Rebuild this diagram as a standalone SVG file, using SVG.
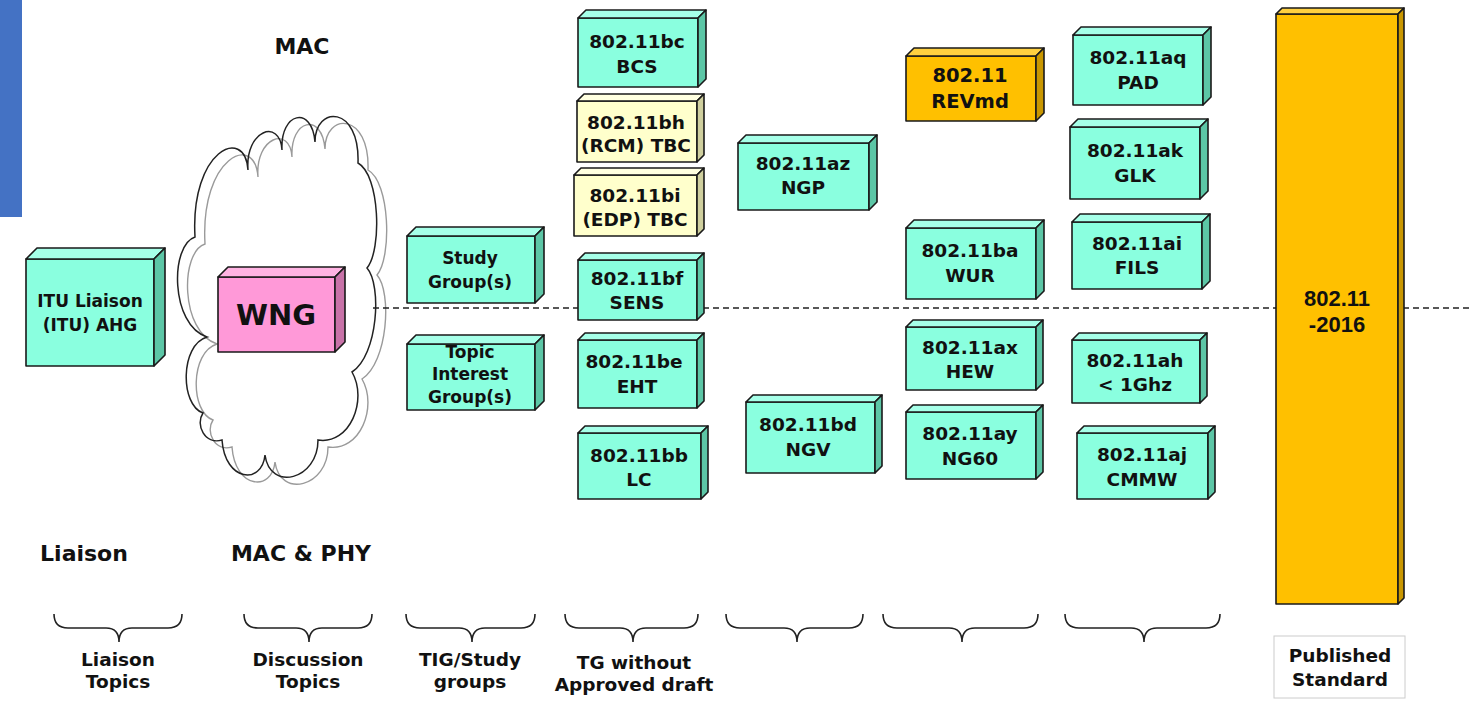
<svg xmlns="http://www.w3.org/2000/svg" width="1472" height="701" viewBox="0 0 1472 701">
<style>
.t{font-family:"DejaVu Sans","Verdana",sans-serif;font-weight:bold;fill:#111;text-anchor:middle}
.b{font-size:18.5px}
.s{font-size:17px}
.big{font-size:22px}
.lab{font-size:18.5px}
.ar{font-family:"Liberation Sans",Arial,sans-serif;font-weight:bold;font-size:22px;fill:#111;text-anchor:middle}
.ol{stroke:#1a1a1a;stroke-width:1.6;stroke-linejoin:round}
.af{fill:#8AFFDF}.at{fill:#A6FFE8}.as{fill:#5CC6A6}
.yf{fill:#FFFFCC}.yt{fill:#FFFFE0}.ys{fill:#CFCF9E}
.of{fill:#FFC000}.ot{fill:#FFD040}.os{fill:#C99700}
.pf{fill:#FF99D8}.pt{fill:#FFB3E2}.ps{fill:#C872A8}
.brace{fill:none;stroke:#222;stroke-width:1.6}
</style>
<defs>
<path id="cloudShape" d="M195,237 C190,150 245,125 248,170 C245,130 280,118 282,150 C280,112 312,105 315,142 C315,105 360,105 358,163 C380,175 382,250 367,268 C382,285 378,355 352,372 C368,400 350,445 318,440 C318,480 270,492 265,455 C262,485 225,482 222,440 C205,445 195,425 203,413 C180,405 180,345 207,337 C170,325 170,245 195,237 Z"/>
</defs>
<rect x="0" y="0" width="22" height="217" fill="#4472C4"/>
<text class="t big" x="302" y="54">MAC</text>
<g id="cloud">
<use href="#cloudShape" transform="translate(10,7)" fill="none" stroke="#9a9a9a" stroke-width="1.4"/>
<use href="#cloudShape" fill="none" stroke="#222" stroke-width="1.5"/>
</g>
<g id="connectors">
<line x1="373" y1="308" x2="1472" y2="308" stroke="#222" stroke-width="1.5" stroke-dasharray="6 4"/>
</g>
<g id="itu">
<rect class="af ol" x="26" y="259" width="128" height="107"/>
<polygon class="at ol" points="26,259 37,248 165,248 154,259"/>
<polygon class="as ol" points="154,259 165,248 165,355 154,366"/>
<text class="t s" x="90" y="307">ITU Liaison</text>
<text class="t s" x="90" y="331">(ITU) AHG</text>
</g>
<g id="wng">
<rect class="pf ol" x="218" y="277" width="117" height="75"/>
<polygon class="pt ol" points="218,277 228,267 345,267 335,277"/>
<polygon class="ps ol" points="335,277 345,267 345,342 335,352"/>
<text class="t" style="font-size:29px" x="276" y="325">WNG</text>
</g>
<g id="study">
<rect class="af ol" x="407" y="236" width="128" height="67"/>
<polygon class="at ol" points="407,236 416,227 544,227 535,236"/>
<polygon class="as ol" points="535,236 544,227 544,294 535,303"/>
<text class="t s" x="470" y="264">Study</text>
<text class="t s" x="470" y="288">Group(s)</text>
</g>
<g id="topic">
<rect class="af ol" x="407" y="344" width="128" height="66"/>
<polygon class="at ol" points="407,344 416,335 544,335 535,344"/>
<polygon class="as ol" points="535,344 544,335 544,401 535,410"/>
<text class="t s" x="470" y="358">Topic</text>
<text class="t s" x="470" y="380">Interest</text>
<text class="t s" x="470" y="403">Group(s)</text>
</g>
<g id="bc">
<rect class="af ol" x="578" y="18" width="120" height="69"/>
<polygon class="at ol" points="578,18 586,10 706,10 698,18"/>
<polygon class="as ol" points="698,18 706,10 706,79 698,87"/>
<text class="t b" x="637" y="48">802.11bc</text>
<text class="t b" x="637" y="73">BCS</text>
</g>
<g id="bh">
<rect class="yf ol" x="577" y="101" width="120" height="61"/>
<polygon class="yt ol" points="577,101 584,94 704,94 697,101"/>
<polygon class="ys ol" points="697,101 704,94 704,155 697,162"/>
<text class="t b" x="636" y="129">802.11bh</text>
<text class="t b" x="636" y="152">(RCM) TBC</text>
</g>
<g id="bi">
<rect class="yf ol" x="574" y="175" width="123" height="61"/>
<polygon class="yt ol" points="574,175 581,168 704,168 697,175"/>
<polygon class="ys ol" points="697,175 704,168 704,229 697,236"/>
<text class="t b" x="635" y="202">802.11bi</text>
<text class="t b" x="635" y="226">(EDP) TBC</text>
</g>
<g id="bf">
<rect class="af ol" x="578" y="260" width="119" height="60"/>
<polygon class="at ol" points="578,260 585,253 704,253 697,260"/>
<polygon class="as ol" points="697,260 704,253 704,313 697,320"/>
<text class="t b" x="637" y="285">802.11bf</text>
<text class="t b" x="637" y="309">SENS</text>
</g>
<g id="be">
<rect class="af ol" x="578" y="340" width="119" height="68"/>
<polygon class="at ol" points="578,340 585,333 704,333 697,340"/>
<polygon class="as ol" points="697,340 704,333 704,401 697,408"/>
<text class="t b" x="634" y="368">802.11be</text>
<text class="t b" x="637" y="393">EHT</text>
</g>
<g id="bb">
<rect class="af ol" x="578" y="433" width="123" height="66"/>
<polygon class="at ol" points="578,433 585,426 708,426 701,433"/>
<polygon class="as ol" points="701,433 708,426 708,492 701,499"/>
<text class="t b" x="639" y="462">802.11bb</text>
<text class="t b" x="639" y="486">LC</text>
</g>
<g id="az">
<rect class="af ol" x="738" y="143" width="131" height="67"/>
<polygon class="at ol" points="738,143 746,135 877,135 869,143"/>
<polygon class="as ol" points="869,143 877,135 877,202 869,210"/>
<text class="t b" x="803" y="170">802.11az</text>
<text class="t b" x="803" y="194">NGP</text>
</g>
<g id="bd">
<rect class="af ol" x="746" y="402" width="129" height="71"/>
<polygon class="at ol" points="746,402 753,395 882,395 875,402"/>
<polygon class="as ol" points="875,402 882,395 882,466 875,473"/>
<text class="t b" x="808" y="431">802.11bd</text>
<text class="t b" x="808" y="456">NGV</text>
</g>
<g id="revmd">
<rect class="of ol" x="906" y="56" width="130" height="65"/>
<polygon class="ot ol" points="906,56 914,48 1044,48 1036,56"/>
<polygon class="os ol" points="1036,56 1044,48 1044,113 1036,121"/>
<text class="t" style="font-size:19.5px" x="970" y="82">802.11</text>
<text class="t" style="font-size:19.5px" x="970" y="108">REVmd</text>
</g>
<g id="ba">
<rect class="af ol" x="906" y="228" width="130" height="71"/>
<polygon class="at ol" points="906,228 914,220 1044,220 1036,228"/>
<polygon class="as ol" points="1036,228 1044,220 1044,291 1036,299"/>
<text class="t b" x="970" y="257">802.11ba</text>
<text class="t b" x="970" y="282">WUR</text>
</g>
<g id="ax">
<rect class="af ol" x="906" y="327" width="130" height="63"/>
<polygon class="at ol" points="906,327 913,320 1043,320 1036,327"/>
<polygon class="as ol" points="1036,327 1043,320 1043,383 1036,390"/>
<text class="t b" x="970" y="354">802.11ax</text>
<text class="t b" x="970" y="378">HEW</text>
</g>
<g id="ay">
<rect class="af ol" x="906" y="412" width="130" height="67"/>
<polygon class="at ol" points="906,412 913,405 1043,405 1036,412"/>
<polygon class="as ol" points="1036,412 1043,405 1043,472 1036,479"/>
<text class="t b" x="970" y="440">802.11ay</text>
<text class="t b" x="970" y="465">NG60</text>
</g>
<g id="aq">
<rect class="af ol" x="1073" y="35" width="130" height="70"/>
<polygon class="at ol" points="1073,35 1081,27 1211,27 1203,35"/>
<polygon class="as ol" points="1203,35 1211,27 1211,97 1203,105"/>
<text class="t b" x="1138" y="64">802.11aq</text>
<text class="t b" x="1138" y="89">PAD</text>
</g>
<g id="ak">
<rect class="af ol" x="1070" y="127" width="130" height="72"/>
<polygon class="at ol" points="1070,127 1078,119 1208,119 1200,127"/>
<polygon class="as ol" points="1200,127 1208,119 1208,191 1200,199"/>
<text class="t b" x="1135" y="157">802.11ak</text>
<text class="t b" x="1135" y="182">GLK</text>
</g>
<g id="ai">
<rect class="af ol" x="1072" y="222" width="130" height="67"/>
<polygon class="at ol" points="1072,222 1080,214 1210,214 1202,222"/>
<polygon class="as ol" points="1202,222 1210,214 1210,281 1202,289"/>
<text class="t b" x="1137" y="250">802.11ai</text>
<text class="t b" x="1137" y="274">FILS</text>
</g>
<g id="ah">
<rect class="af ol" x="1072" y="340" width="128" height="63"/>
<polygon class="at ol" points="1072,340 1079,333 1207,333 1200,340"/>
<polygon class="as ol" points="1200,340 1207,333 1207,396 1200,403"/>
<text class="t b" x="1135" y="367">802.11ah</text>
<text class="t b" x="1135" y="391">&lt; 1Ghz</text>
</g>
<g id="aj">
<rect class="af ol" x="1077" y="433" width="131" height="66"/>
<polygon class="at ol" points="1077,433 1084,426 1215,426 1208,433"/>
<polygon class="as ol" points="1208,433 1215,426 1215,492 1208,499"/>
<text class="t b" x="1142" y="461">802.11aj</text>
<text class="t b" x="1142" y="486">CMMW</text>
</g>
<g id="std2016">
<rect class="of ol" x="1276" y="14" width="122" height="590"/>
<polygon class="ot ol" points="1276,14 1282,8 1404,8 1398,14"/>
<polygon class="os ol" points="1398,14 1404,8 1404,598 1398,604"/>
<text class="ar" x="1337" y="306">802.11</text>
<text class="ar" x="1337" y="332">-2016</text>
</g>
<text class="t big" x="84" y="561">Liaison</text>
<text class="t big" x="301" y="561">MAC &amp; PHY</text>
<g id="braces">
<path class="brace" d="M54,614 Q54,628 68,628 L106,628 Q119,628 119,642 Q119,628 132,628 L168,628 Q182,628 182,614"/>
<path class="brace" d="M244,614 Q244,628 258,628 L296,628 Q309,628 309,642 Q309,628 322,628 L358,628 Q372,628 372,614"/>
<path class="brace" d="M406,614 Q406,628 420,628 L459,628 Q472,628 472,642 Q472,628 485,628 L521,628 Q535,628 535,614"/>
<path class="brace" d="M565,614 Q565,628 579,628 L620,628 Q633,628 633,642 Q633,628 646,628 L684,628 Q698,628 698,614"/>
<path class="brace" d="M726,614 Q726,628 740,628 L784,628 Q797,628 797,642 Q797,628 810,628 L849,628 Q863,628 863,614"/>
<path class="brace" d="M883,614 Q883,628 897,628 L949,628 Q962,628 962,642 Q962,628 975,628 L1024,628 Q1038,628 1038,614"/>
<path class="brace" d="M1065,614 Q1065,628 1079,628 L1131,628 Q1144,628 1144,642 Q1144,628 1157,628 L1206,628 Q1220,628 1220,614"/>
</g>
<text class="t lab" x="118" y="666">Liaison</text>
<text class="t lab" x="118" y="688">Topics</text>
<text class="t lab" x="308" y="666">Discussion</text>
<text class="t lab" x="308" y="688">Topics</text>
<text class="t lab" x="470" y="666">TIG/Study</text>
<text class="t lab" x="470" y="688">groups</text>
<text class="t lab" x="634" y="669">TG without</text>
<text class="t lab" x="634" y="691">Approved draft</text>
<g id="published">
<rect x="1274" y="636" width="131" height="62" fill="#fff" stroke="#ccc" stroke-width="1"/>
<text class="t lab" x="1340" y="662">Published</text>
<text class="t lab" x="1340" y="686">Standard</text>
</g>
</svg>
